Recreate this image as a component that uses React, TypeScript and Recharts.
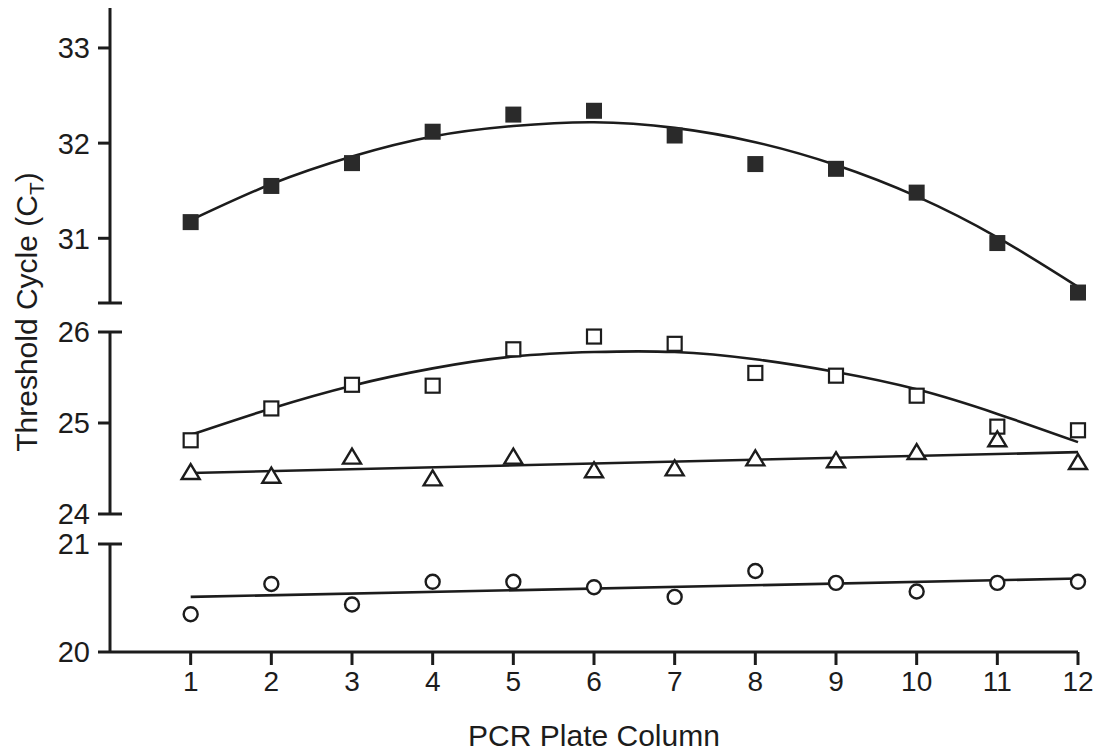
import { ComposedChart, Line, Scatter, XAxis, YAxis } from 'recharts';

// plate columns and the ct values
const columns = [1, 2, 3, 4, 5, 6, 7, 8, 9, 10, 11, 12];
const fitEndColumns = [1, 12];

const filledSquare = [31.17, 31.55, 31.79, 32.12, 32.3, 32.34, 32.08, 31.78, 31.73, 31.48, 30.95, 30.43];
const filledSquareFit = [31.19, 31.57, 31.86, 32.07, 32.18, 32.22, 32.16, 32.01, 31.77, 31.44, 31.01, 30.49];

const openSquare = [24.81, 25.16, 25.42, 25.41, 25.81, 25.95, 25.87, 25.55, 25.52, 25.3, 24.96, 24.92];
const openSquareFit = [24.87, 25.16, 25.41, 25.6, 25.73, 25.78, 25.78, 25.7, 25.56, 25.37, 25.1, 24.79];

const triangle = [24.45, 24.41, 24.62, 24.38, 24.62, 24.47, 24.49, 24.6, 24.58, 24.67, 24.81, 24.56];
const triangleFitEnds = [24.45, 24.68];

const circle = [20.35, 20.63, 20.44, 20.65, 20.65, 20.6, 20.51, 20.75, 20.64, 20.56, 20.64, 20.65];
const circleFitEnds = [20.51, 20.68];

// broken y axis: three segments
const topDomain = [30.32, 33.42];
const topTicks = [31, 32, 33];
const midDomain = [24, 26];
const midTicks = [24, 25, 26];
const lowDomain = [20, 21];
const lowTicks = [20, 21];
const xTicks = [1, 2, 3, 4, 5, 6, 7, 8, 9, 10, 11, 12];

const W = 1101;
const H = 754;
const INK = '#1c1c1c';
const FONT = '"Liberation Sans", Arial, sans-serif';
const TICK_SIZE = 12;
const TICK_MARGIN = 8;

const pts = (xs: number[], ys: number[]) => xs.map((x, i) => ({ x, y: ys[i] }));

const FilledSquare = ({ cx, cy }: any) => (
  <rect x={cx - 8} y={cy - 8} width={16} height={16} fill="#2a2a2a" />
);
const OpenSquare = ({ cx, cy }: any) => (
  <rect x={cx - 7} y={cy - 7} width={14} height={14} fill="#fff" stroke={INK} strokeWidth={2.2} />
);
const Triangle = ({ cx, cy }: any) => (
  <path
    d={`M${cx},${cy - 9} L${cx + 9},${cy + 6} L${cx - 9},${cy + 6} Z`}
    fill="#fff"
    stroke={INK}
    strokeWidth={2.4}
  />
);
const Circle = ({ cx, cy }: any) => (
  <circle cx={cx} cy={cy} r={7} fill="#fff" stroke={INK} strokeWidth={2.4} />
);

const YTick = ({ x, y, payload, caps, labels }: any) => {
  const axisX = x + TICK_SIZE + TICK_MARGIN;
  const isCap = caps.includes(payload.value);
  const showLabel = labels.includes(payload.value);
  return (
    <g>
      <line
        x1={axisX - TICK_SIZE}
        x2={axisX + (isCap ? TICK_SIZE : 0)}
        y1={y}
        y2={y}
        stroke={INK}
        strokeWidth={3}
      />
      {showLabel && (
        <text x={x} y={y} dy="0.36em" textAnchor="end" fontSize={29} fill={INK} fontFamily={FONT}>
          {payload.value}
        </text>
      )}
    </g>
  );
};

function Segment({ top, bottom, domain, ticks, labels, caps, children, showX }: any) {
  return (
    <div style={{ position: 'absolute', left: 0, top: 0 }}>
      <ComposedChart
        width={W}
        height={H}
        margin={{ top, right: 23, bottom: showX ? bottom - 40 : bottom, left: 0 }}
      >
        <XAxis
          type="number"
          dataKey="x"
          domain={[0, 12]}
          ticks={xTicks}
          interval={0}
          hide={!showX}
          height={40}
          tickSize={13}
          tickMargin={6}
          axisLine={{ stroke: INK, strokeWidth: 3 }}
          tickLine={{ stroke: INK, strokeWidth: 3 }}
          tick={{ fontSize: 28, fill: INK, fontFamily: FONT }}
        />
        <YAxis
          type="number"
          dataKey="y"
          domain={domain}
          ticks={ticks}
          interval={0}
          width={110}
          tickSize={TICK_SIZE}
          tickMargin={TICK_MARGIN}
          tickLine={false}
          axisLine={{ stroke: INK, strokeWidth: 3 }}
          tick={(p: any) => <YTick {...p} caps={caps} labels={labels} />}
        />
        {children}
      </ComposedChart>
    </div>
  );
}

export default function App() {
  return (
    <div
      style={{
        position: 'absolute',
        left: 0,
        top: 0,
        width: W,
        height: H,
        background: '#fff',
        overflow: 'hidden',
      }}
    >
      <Segment
        top={8}
        bottom={H - 303}
        domain={topDomain}
        ticks={[topDomain[0], ...topTicks]}
        labels={topTicks}
        caps={[topDomain[0]]}
      >
        <Line
          data={pts(columns, filledSquareFit)}
          dataKey="y"
          type="natural"
          stroke={INK}
          strokeWidth={2.6}
          dot={false}
          isAnimationActive={false}
        />
        <Scatter data={pts(columns, filledSquare)} shape={FilledSquare} isAnimationActive={false} />
      </Segment>

      <Segment
        top={332}
        bottom={H - 514}
        domain={midDomain}
        ticks={midTicks}
        labels={midTicks}
        caps={[24, 26]}
      >
        <Line
          data={pts(columns, openSquareFit)}
          dataKey="y"
          type="natural"
          stroke={INK}
          strokeWidth={2.6}
          dot={false}
          isAnimationActive={false}
        />
        <Line
          data={pts(fitEndColumns, triangleFitEnds)}
          dataKey="y"
          type="linear"
          stroke={INK}
          strokeWidth={2.6}
          dot={false}
          isAnimationActive={false}
        />
        <Scatter data={pts(columns, openSquare)} shape={OpenSquare} isAnimationActive={false} />
        <Scatter data={pts(columns, triangle)} shape={Triangle} isAnimationActive={false} />
      </Segment>

      <Segment
        top={544}
        bottom={H - 652}
        domain={lowDomain}
        ticks={lowTicks}
        labels={lowTicks}
        caps={[21]}
        showX
      >
        <Line
          data={pts(fitEndColumns, circleFitEnds)}
          dataKey="y"
          type="linear"
          stroke={INK}
          strokeWidth={2.6}
          dot={false}
          isAnimationActive={false}
        />
        <Scatter data={pts(columns, circle)} shape={Circle} isAnimationActive={false} />
      </Segment>

      <svg
        width={W}
        height={H}
        style={{ position: 'absolute', left: 0, top: 0, pointerEvents: 'none' }}
      >
        <text
          transform="translate(37,312) rotate(-90)"
          textAnchor="middle"
          fontSize={30}
          fill={INK}
          fontFamily={FONT}
        >
          Threshold Cycle (C
          <tspan fontSize={21} dy={7}>
            T
          </tspan>
          <tspan dy={-7}>)</tspan>
        </text>
        <text x={594} y={746} textAnchor="middle" fontSize={30} fill={INK} fontFamily={FONT}>
          PCR Plate Column
        </text>
      </svg>
    </div>
  );
}
